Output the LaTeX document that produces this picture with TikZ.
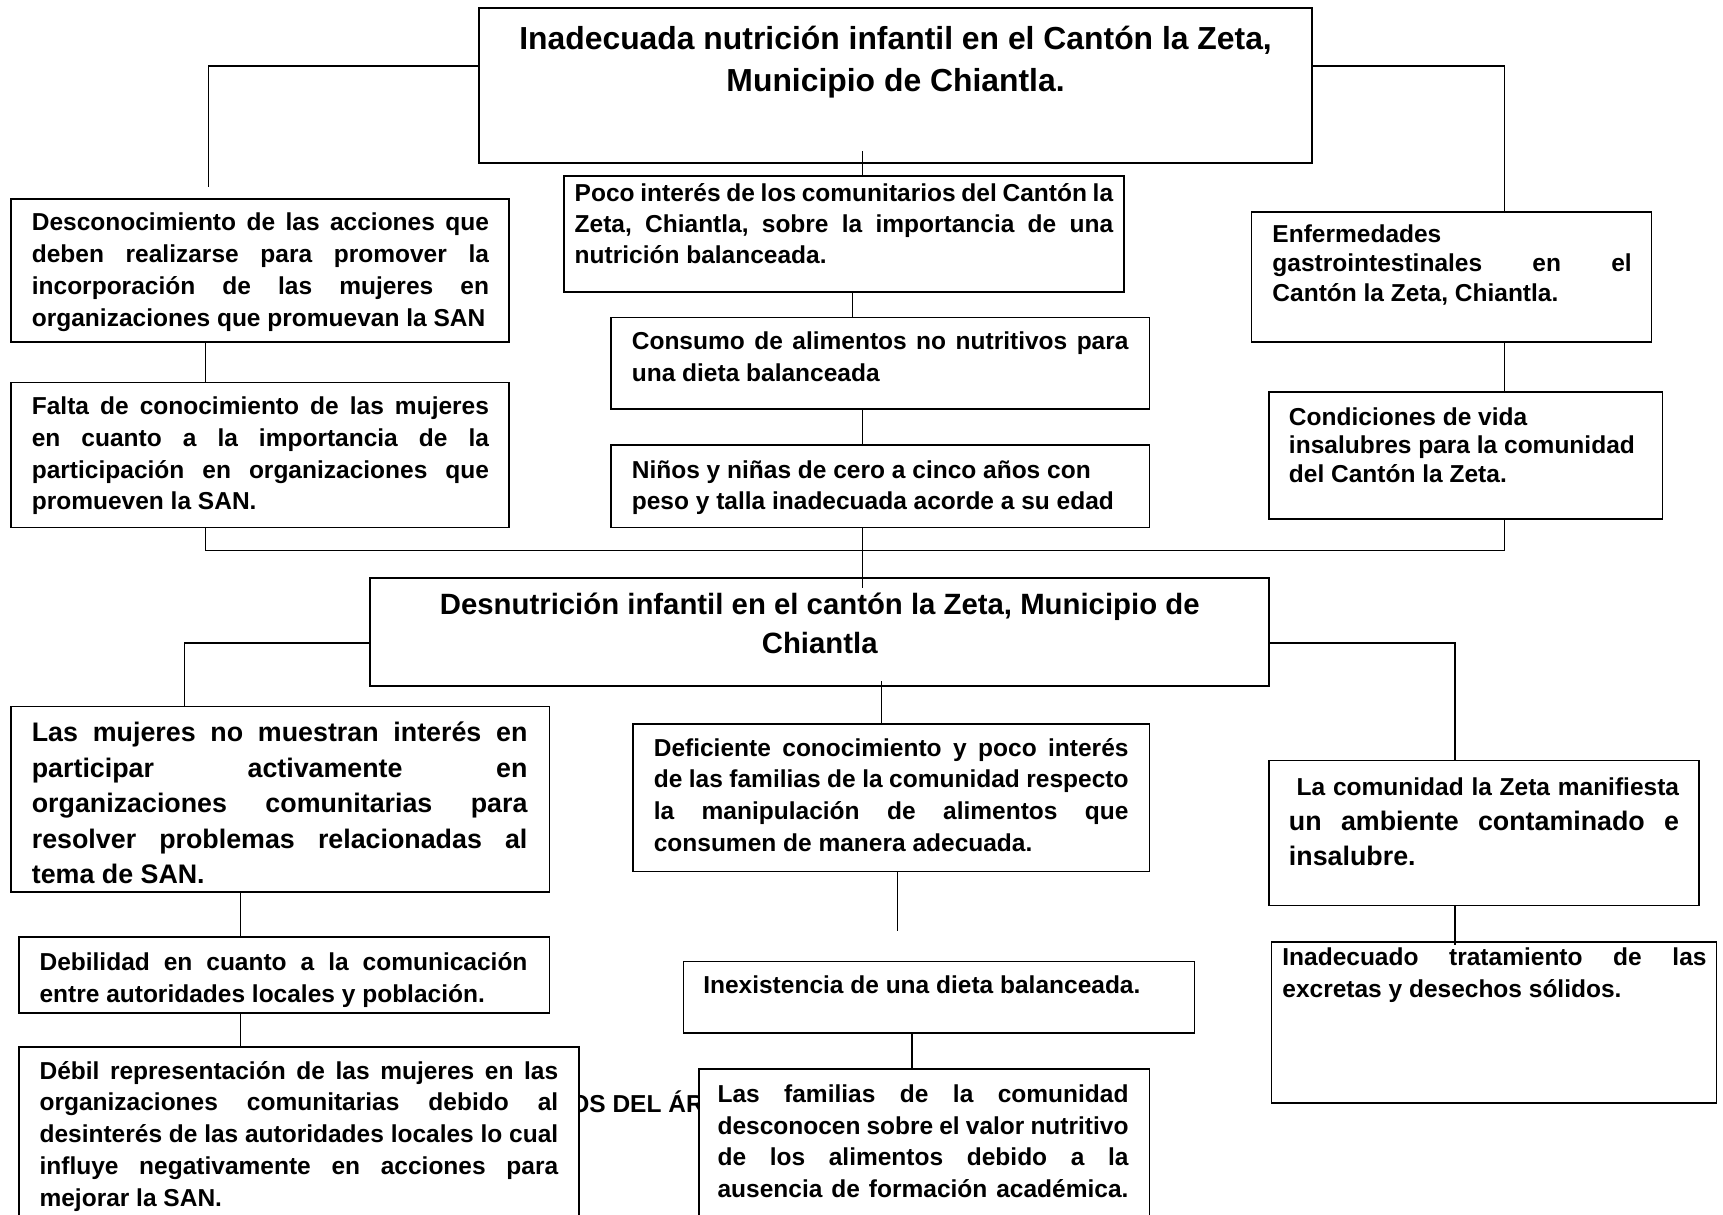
\documentclass[tikz,border=0pt]{standalone}
\usepackage{fontspec}
\setmainfont{Liberation Sans}
\usetikzlibrary{calc}
\newcommand\fsz[2]{\fontsize{#1pt}{#2pt}\selectfont\bfseries\frenchspacing}
\newcommand\tb[2]{\vtop{\hsize=#1pt\relax #2}}
\newcommand\jl[1]{\hbox to\hsize{#1}}
\newcommand\lf[1]{\hbox to\hsize{#1\hfil}}
\newcommand\cl[1]{\hbox to\hsize{\hfil#1\hfil}}
\newcommand\bx[5]{\node[box, minimum width={(#4-#2)*1pt}, minimum height={(#5-#3)*1pt}] (#1) at (#2,#3) {};}
\tikzset{
  box/.style={draw, line width=1.6pt, fill=white, inner sep=0pt, outer sep=0pt, anchor=north west},
  txt/.style={anchor=base west, inner sep=0pt, outer sep=0pt},
  conn/.style={draw, line width=1.3pt},
  body/.style={font=\fsz{22.3}{29}},
}
\begin{document}
\begin{tikzpicture}[x=1pt, y=-1pt]
\path[use as bounding box] (0,0) rectangle (1568,1105);
\clip (0,0) rectangle (1568,1105);
\fill[white] (0,0) rectangle (1568,1105);

% text lying behind the boxes
\node[txt, body] (stray) at (519,1012) {OS DEL ÁR};

% boxes
\bx{T1}{436}{7}{1194}{148}
\bx{A1}{10}{181}{463}{311}
\bx{A2}{10}{348}{463}{480}
\bx{B1}{513}{160}{1023}{266}
\bx{B2}{556}{289}{1046}{372}
\bx{B3}{556}{405}{1046}{480}
\bx{C1}{1139}{193}{1503}{311}
\bx{C2}{1155}{357}{1513}{472}
\bx{D}{337}{526}{1155}{624}
\bx{E1}{10}{643}{500}{812}
\bx{E2}{17}{853}{500}{922}
\bx{E3}{17}{953}{527}{1115}
\bx{F1}{576}{659}{1046}{793}
\bx{F2}{622}{875}{1087}{940}
\bx{F3}{636}{973}{1046}{1115}
\bx{G1}{1155}{692}{1546}{824}
\bx{G2}{1157}{857}{1562}{1004}

% texts
\node[txt, font=\fsz{29}{38}] (T1t) at (445,45) {\tb{740}{%
 \cl{Inadecuada nutrición infantil en el Cantón la Zeta,}
 \cl{Municipio de Chiantla.}}};
\node[txt, body] (A1t) at (29,210) {\tb{416}{%
 \jl{Desconocimiento de las acciones que}
 \jl{deben realizarse para promover la}
 \jl{incorporación de las mujeres en}
 \lf{organizaciones que promuevan la SAN}}};
\node[txt, body] (A2t) at (29,377) {\tb{416}{%
 \jl{Falta de conocimiento de las mujeres}
 \jl{en cuanto a la importancia de la}
 \jl{participación en organizaciones que}
 \lf{promueven la SAN.}}};
\node[txt, font=\fsz{22.3}{28.5}] (B1t) at (523,183) {\tb{490}{%
 \jl{Poco interés de los comunitarios del Cantón la}
 \jl{Zeta, Chiantla, sobre la importancia de una}
 \lf{nutrición balanceada.}}};
\node[txt, body] (B2t) at (575,318) {\tb{452}{%
 \jl{Consumo de alimentos no nutritivos para}
 \lf{una dieta balanceada}}};
\node[txt, body] (B3t) at (575,435) {\tb{452}{%
 \lf{Niños y niñas de cero a cinco años con}
 \lf{peso y talla inadecuada acorde a su edad}}};
\node[txt, font=\fsz{22.3}{26.5}] (C1t) at (1158,221) {\tb{327}{%
 \lf{Enfermedades}
 \jl{gastrointestinales en el}
 \lf{Cantón la Zeta, Chiantla.}}};
\node[txt, font=\fsz{22.3}{26}] (C2t) at (1173,387) {\tb{330}{%
 \lf{Condiciones de vida}
 \lf{insalubres para la comunidad}
 \lf{del Cantón la Zeta.}}};
\node[txt, font=\fsz{26.7}{36}] (Dt) at (366,559) {\tb{760}{%
 \cl{Desnutrición infantil en el cantón la Zeta, Municipio de}
 \cl{Chiantla}}};
\node[txt, font=\fsz{24.4}{32.3}] (E1t) at (29,675) {\tb{451}{%
 \jl{Las mujeres no muestran interés en}
 \jl{participar activamente en}
 \jl{organizaciones comunitarias para}
 \jl{resolver problemas relacionadas al}
 \lf{tema de SAN.}}};
\node[txt, body] (E2t) at (36,883) {\tb{444}{%
 \jl{Debilidad en cuanto a la comunicación}
 \lf{entre autoridades locales y población.}}};
\node[txt, body] (E3t) at (36,982) {\tb{472}{%
 \jl{Débil representación de las mujeres en las}
 \jl{organizaciones comunitarias debido al}
 \jl{desinterés de las autoridades locales lo cual}
 \jl{influye negativamente en acciones para}
 \lf{mejorar la SAN.}}};
\node[txt, body] (F1t) at (595,688) {\tb{432}{%
 \jl{Deficiente conocimiento y poco interés}
 \jl{de las familias de la comunidad respecto}
 \jl{la manipulación de alimentos que}
 \lf{consumen de manera adecuada.}}};
\node[txt, body] (F2t) at (640,904) {\tb{420}{%
 \lf{Inexistencia de una dieta balanceada.}}};
\node[txt, body] (F3t) at (653,1003) {\tb{374}{%
 \jl{Las familias de la comunidad}
 \jl{desconocen sobre el valor nutritivo}
 \jl{de los alimentos debido a la}
 \jl{ausencia de formación académica.}}};
\node[txt, body] (G1t) at (1173,724) {\tb{355}{%
 \jl{\hskip7pt La comunidad la Zeta manifiesta}
 \fsz{24.4}{32}%
 \jl{un ambiente contaminado e}
 \lf{insalubre.}}};
\node[txt, body] (G2t) at (1167,879) {\tb{386}{%
 \jl{Inadecuado tratamiento de las}
 \lf{excretas y desechos sólidos.}}};

% connector columns and free ends
\coordinate (xA) at (187,0);
\coordinate (xB) at (785,0);
\coordinate (xB2) at (776,0);
\coordinate (xE) at (168,0);
\coordinate (xE2) at (219,0);
\coordinate (xF) at (802,0);
\coordinate (xF3) at (830,0);
\coordinate (xG) at (1324,0);
\coordinate (bus1) at (187,501);
\coordinate (bus2) at (1369,501);
\coordinate (cA) at (190,170);
\coordinate (fF) at (817,847);

% connectors
\draw[conn] ($(T1.north west)+(0,53)$) -| (cA);
\draw[conn] ($(T1.north east)+(0,53)$) -| (C1.north -| bus2);
\draw[conn] (B1.north -| xB) -- ++(0,-23);
\draw[conn] (A1.south -| xA) -- (A2.north -| xA);
\draw[conn] (A2.south -| xA) -- (bus1) -- (bus2) -- (C2.south -| bus2);
\draw[conn] (C1.south -| bus2) -- (C2.north -| bus2);
\draw[conn] (B1.south -| xB2) -- (B2.north -| xB2);
\draw[conn] (B2.south -| xB) -- (B3.north -| xB);
\draw[conn] (B3.south -| xB) -- ($(D.north -| xB)+(0,9)$);
\draw[conn] ($(D.north west)+(0,59)$) -| (E1.north -| xE);
\draw[conn] ($(D.north east)+(0,59)$) -| (G1.north -| xG);
\draw[conn] ($(D.south -| xF)+(0,-4)$) -- (F1.north -| xF);
\draw[conn] (E1.south -| xE2) -- (E2.north -| xE2);
\draw[conn] (E2.south -| xE2) -- (E3.north -| xE2);
\draw[conn] (F1.south -| fF) -- (fF);
\draw[conn] (F2.south -| xF3) -- (F3.north -| xF3);
\draw[conn] (G1.south -| xG) -- ($(G2.north -| xG)+(0,3)$);
\end{tikzpicture}
\end{document}
